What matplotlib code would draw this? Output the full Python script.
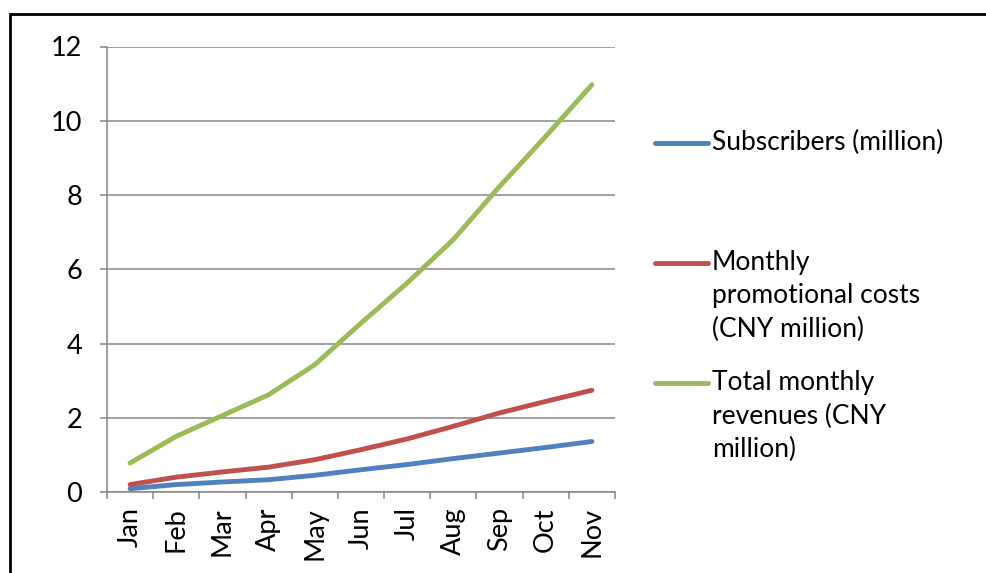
import matplotlib
matplotlib.use('Agg')
import matplotlib.pyplot as plt
from matplotlib.lines import Line2D
from matplotlib.patches import Rectangle

plt.rcParams['font.family'] = ['Lato', 'DejaVu Sans']

months = ['Jan', 'Feb', 'Mar', 'Apr', 'May', 'Jun', 'Jul', 'Aug', 'Sep', 'Oct', 'Nov']
subscribers = [0.09, 0.20, 0.27, 0.33, 0.45, 0.60, 0.74, 0.90, 1.05, 1.20, 1.36]
promo_costs = [0.20, 0.40, 0.54, 0.67, 0.87, 1.14, 1.43, 1.77, 2.13, 2.44, 2.74]
revenues = [0.78, 1.50, 2.06, 2.62, 3.43, 4.55, 5.63, 6.80, 8.23, 9.58, 10.97]
labels = ['Subscribers (million)',
          'Monthly\npromotional costs\n(CNY million)',
          'Total monthly\nrevenues (CNY\nmillion)']
colors = ['#4F81BD', '#C0504D', '#9BBB59']
yticks = [0, 2, 4, 6, 8, 10, 12]

W, H = 987, 573
fig = plt.figure(figsize=(W / 100, H / 100), dpi=100)
ax = fig.add_axes([107 / W, 1 - 492 / H, 508 / W, 445.5 / H])

x = range(len(months))
for vals, c in zip([subscribers, promo_costs, revenues], colors):
    ax.plot(x, vals, color=c, lw=3.5, solid_capstyle='round', zorder=3)

grid_c = '#868686'
ax.set_xlim(-0.5, len(months) - 0.5)
ax.set_ylim(0, 12)
ax.set_yticks(yticks)
ax.set_yticklabels([str(v) for v in yticks])
ax.yaxis.grid(True, color=grid_c, lw=1.1)
ax.set_axisbelow(True)
ax.set_xticks(list(x))
ax.set_xticklabels(months, rotation=90)
ax.set_xticks([i - 0.5 for i in range(len(months) + 1)], minor=True)
ax.tick_params(axis='x', which='major', length=0, pad=11, labelsize=19.5)
ax.tick_params(axis='x', which='minor', length=5, width=1.1, color=grid_c, direction='out')
ax.tick_params(axis='y', length=5, width=1.1, color=grid_c, pad=13, labelsize=19.5)
for s in ['top', 'right']:
    ax.spines[s].set_visible(False)
for s in ['left', 'bottom']:
    ax.spines[s].set_color(grid_c)
    ax.spines[s].set_linewidth(1.1)

# legend drawn on the figure, each handle level with the first text line
leg_y = [143, 263, 383]
for lab, c, yy in zip(labels, colors, leg_y):
    fy = 1 - yy / H
    fig.add_artist(Line2D([655 / W, 708 / W], [fy, fy], color=c, lw=3.5,
                          solid_capstyle='round'))
    fig.text(712 / W, fy + 13 / H, lab, fontsize=19, va='top', ha='left',
             linespacing=1.42)

fig.add_artist(Rectangle((10 / W, -0.05), 1.1, 1 - 14 / H + 0.05,
                         transform=fig.transFigure, fill=False,
                         edgecolor='black', lw=2))

fig.savefig('out.png', dpi=100)
